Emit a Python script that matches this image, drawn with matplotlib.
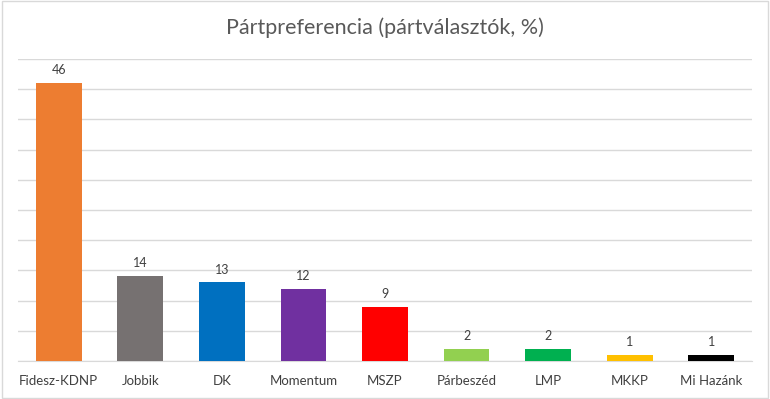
import matplotlib
matplotlib.use("Agg")
import matplotlib.pyplot as plt
from matplotlib.patches import Rectangle

categories = ["Fidesz-KDNP", "Jobbik", "DK", "Momentum", "MSZP", "Párbeszéd", "LMP", "MKKP", "Mi Hazánk"]
values = [46, 14, 13, 12, 9, 2, 2, 1, 1]
colors = ["#ED7D31", "#767171", "#0070C0", "#7030A0", "#FF0000", "#92D050", "#00B050", "#FFC000", "#000000"]
title = "Pártpreferencia (pártválasztók, %)"
yticks = [0, 5, 10, 15, 20, 25, 30, 35, 40, 45, 50]

plt.rcParams['font.family'] = ['Lato', 'DejaVu Sans']

fig = plt.figure(figsize=(7.7, 3.99), dpi=100)
ax = fig.add_axes([18/770, 1-361/399, (752-18)/770, (361-59)/399])

x = list(range(len(categories)))
bars = ax.bar(x, values, width=0.56, color=colors, zorder=3)
for xi, v in zip(x, values):
    ax.annotate(str(v), (xi, v), xytext=(0, 5), textcoords="offset points",
                ha="center", va="bottom", fontsize=9, color="#404040")

ax.set_xlim(-0.5, len(categories)-0.5)
ax.set_ylim(0, 50)
ax.set_yticks(yticks)
ax.yaxis.grid(True, color="#D9D9D9", linewidth=1, zorder=0)
ax.tick_params(axis="y", left=False, labelleft=False)
ax.set_xticks(x)
ax.set_xticklabels(categories, fontsize=9.5, color="#404040")
ax.tick_params(axis="x", length=0, pad=10)
for s in ["top", "right", "left"]:
    ax.spines[s].set_visible(False)
ax.spines["bottom"].set_color("#D9D9D9")

fig.text(0.5, 1-28/399, title, ha="center", va="center", fontsize=15.5, color="#595959", fontweight="normal")

fig.patches.append(Rectangle((0.002, 0.003), 0.996, 0.994, transform=fig.transFigure,
                             fill=False, edgecolor="#D9D9D9", linewidth=1))

fig.savefig("out.png", dpi=100)
